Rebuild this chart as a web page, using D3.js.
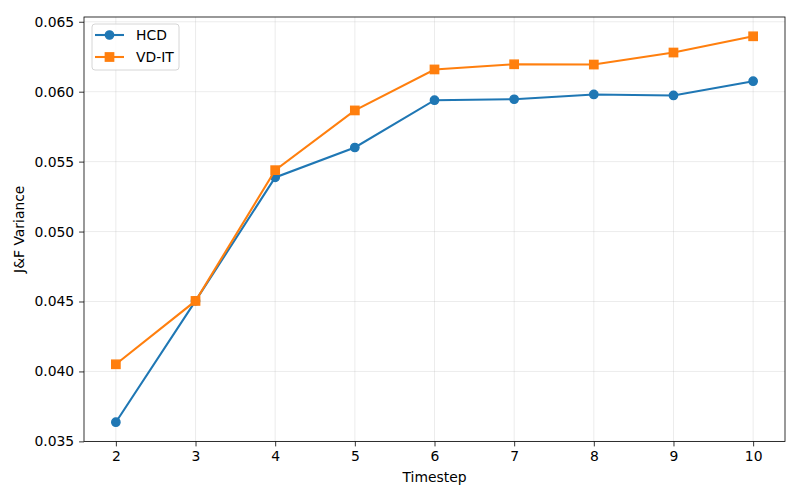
<!DOCTYPE html>
<html>
<head>
<meta charset="utf-8">
<script src="https://d3js.org/d3.v7.min.js"></script>
<style>
  body { margin: 0; background: #fff; }
  svg text { font-family: "DejaVu Sans", sans-serif; }
</style>
</head>
<body>
<div id="chart"></div>
<script>
// data
var timesteps = [2, 3, 4, 5, 6, 7, 8, 9, 10];
var hcd  = [0.03637, 0.04504, 0.05387, 0.05601, 0.05939, 0.05946, 0.05980, 0.05973, 0.06075];
var vdit = [0.04051, 0.04504, 0.05439, 0.05866, 0.06159, 0.06196, 0.06194, 0.06280, 0.06396];
var yTicks = [0.035, 0.040, 0.045, 0.050, 0.055, 0.060, 0.065];

var W = 800, H = 500;
var margin = {top: 17, right: 15, bottom: 58.5, left: 84};
var width = W - margin.left - margin.right,
    height = H - margin.top - margin.bottom;

var svg = d3.select("#chart").append("svg")
    .attr("width", W).attr("height", H);
var g = svg.append("g")
    .attr("transform", "translate(" + margin.left + "," + margin.top + ")");

var x = d3.scaleLinear().domain([1.6, 10.4]).range([0, width]);
var y = d3.scaleLinear().domain([0.03499, 0.06534]).range([height, 0]);

// grid
g.append("g").selectAll("line").data(timesteps).enter().append("line")
    .attr("x1", function(d) { return x(d); }).attr("x2", function(d) { return x(d); })
    .attr("y1", 0).attr("y2", height)
    .attr("stroke", "#b0b0b0").attr("stroke-opacity", 0.3).attr("stroke-width", 0.8);
g.append("g").selectAll("line").data(yTicks).enter().append("line")
    .attr("y1", function(d) { return y(d); }).attr("y2", function(d) { return y(d); })
    .attr("x1", 0).attr("x2", width)
    .attr("stroke", "#b0b0b0").attr("stroke-opacity", 0.3).attr("stroke-width", 0.8);

// axes
var xAxis = g.append("g")
    .attr("transform", "translate(0," + height + ")")
    .call(d3.axisBottom(x).tickValues(timesteps).tickFormat(d3.format("d")).tickSizeOuter(0).tickSize(4.9).tickPadding(4.9));
var yAxis = g.append("g")
    .call(d3.axisLeft(y).tickValues(yTicks).tickFormat(d3.format(".3f")).tickSizeOuter(0).tickSize(4.9).tickPadding(4.9));
[xAxis, yAxis].forEach(function(a) {
  a.select(".domain").remove();
  a.selectAll("line").attr("stroke", "#000").attr("stroke-width", 0.8);
  a.selectAll("text").attr("font-size", "13.9px").attr("fill", "#000")
    .style("font-family", "DejaVu Sans, sans-serif");
});

// frame
g.append("rect").attr("width", width).attr("height", height)
    .attr("fill", "none").attr("stroke", "#000").attr("stroke-width", 0.8);

var series = [
  {name: "HCD", values: hcd, color: "#1f77b4", marker: "circle"},
  {name: "VD-IT", values: vdit, color: "#ff7f0e", marker: "square"}
];

var line = d3.line()
    .x(function(d, i) { return x(timesteps[i]); })
    .y(function(d) { return y(d); });

// marker 6pt + 1pt edge in the same colour
function drawMarker(sel, s, cx, cy) {
  if (s.marker === "circle") {
    sel.append("circle").attr("cx", cx).attr("cy", cy).attr("r", 4.17)
      .attr("fill", s.color).attr("stroke", s.color).attr("stroke-width", 1.39);
  } else {
    sel.append("rect").attr("x", cx - 4.17).attr("y", cy - 4.17)
      .attr("width", 8.34).attr("height", 8.34)
      .attr("fill", s.color).attr("stroke", s.color).attr("stroke-width", 1.39);
  }
}

series.forEach(function(s) {
  g.append("path").datum(s.values)
    .attr("d", line).attr("fill", "none")
    .attr("stroke", s.color).attr("stroke-width", 2.08);
  var mg = g.append("g");
  s.values.forEach(function(v, i) { drawMarker(mg, s, x(timesteps[i]), y(v)); });
});

// axis labels
svg.append("text").attr("x", margin.left + width / 2).attr("y", 482)
    .attr("text-anchor", "middle").attr("font-size", "13.9px").text("Timestep");
svg.append("text").attr("transform", "translate(24," + (margin.top + height / 2) + ") rotate(-90)")
    .attr("text-anchor", "middle").attr("font-size", "13.9px").text("J&F Variance");

// legend
var lg = g.append("g").attr("transform", "translate(8,7)");
lg.append("rect").attr("width", 87).attr("height", 46).attr("rx", 3)
    .attr("fill", "#fff").attr("fill-opacity", 0.8)
    .attr("stroke", "#ccc").attr("stroke-width", 0.8);
series.forEach(function(s, i) {
  var yy = 11 + i * 22;
  lg.append("line").attr("x1", 3).attr("x2", 32).attr("y1", yy).attr("y2", yy)
    .attr("stroke", s.color).attr("stroke-width", 2.08);
  drawMarker(lg, s, 17.5, yy);
  lg.append("text").attr("x", 44).attr("y", yy + 5).attr("font-size", "13.9px").text(s.name);
});
</script>
</body>
</html>
